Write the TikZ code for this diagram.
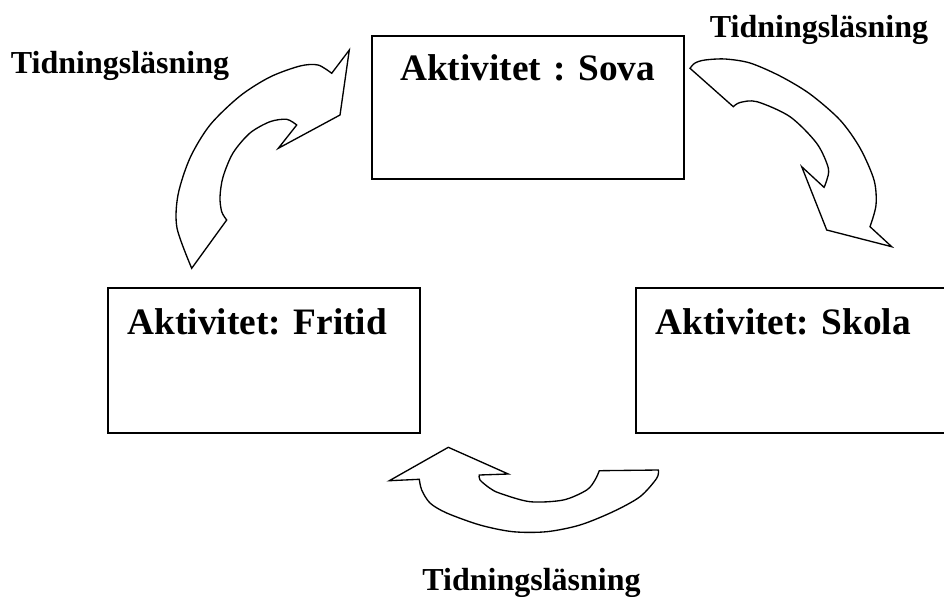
\documentclass[tikz,border=0pt]{standalone}
\usepackage{fontspec}
\setmainfont{Liberation Serif}
\usepackage{tikz}
\usetikzlibrary{positioning}
\frenchspacing
\tikzstyle{actbox} = [rectangle, draw=black, line width=1.2pt, anchor=north west, minimum width=234pt, inner xsep=15pt, inner ysep=0pt, text width=204pt, text depth=73.5pt, font=\fontsize{28}{34}\selectfont\bfseries]
\tikzstyle{readlabel} = [anchor=base, inner sep=0pt, font=\fontsize{24}{29}\selectfont\bfseries]
\tikzstyle{bigarrow} = [draw=black, line width=1pt, fill=white, line join=miter]

\begin{document}
\begin{tikzpicture}[x=0.75pt, y=-0.75pt]
\useasboundingbox (0,0) rectangle (944,596);

\node[actbox, align=center, text height=33.75pt] (sova) at (371,35) {Aktivitet : Sova};
\node[actbox, align=left, text height=35.25pt] (fritid) at (107,287) {Aktivitet: Fritid};
\node[actbox, align=left, text height=35.25pt] (skola) at (635,287) {Aktivitet: Skola};

\node[readlabel] (lasvanster) at (120,73) {Tidningsläsning};
\node[readlabel] (lashoger) at (819,37) {Tidningsläsning};
\node[readlabel] (lasnere) at (531.5,590) {Tidningsläsning};

\draw[bigarrow] (191.7,268.3)
  -- plot[smooth] coordinates {(191.7,268.3) (177,228) (178,195) (190,158) (210,125) (240,96) (270,77) (300,66) (318,65) (331.7,73.3)}
  -- (349.3,50) -- (340,115) -- (278.3,148.3) -- (296.7,125)
  -- plot[smooth] coordinates {(296.7,125) (286.7,119.3) (270,121.7) (250,133) (233,153) (223,177) (220,197) (221.7,211.7) (226.7,220)}
  -- cycle;

\draw[bigarrow] (690,68.3) -- (733.3,106.7)
  -- plot[smooth] coordinates {(733.3,106.7) (740,102.5) (757,101.7) (790,116.7) (816.7,143.3) (828.3,168) (826.5,181) (824,187.3)}
  -- (801.7,166.7) -- (826.7,230) -- (891.7,246.7) -- (870,226.7)
  -- plot[smooth] coordinates {(870,226.7) (876,205) (874,180) (860,148) (840,120) (810,94) (780,76) (750,63) (725,59) (705,60) (695,63) (690,68.3)}
  -- cycle;

\draw[bigarrow] (448.3,447.3) -- (508.3,474) -- (479.3,475)
  -- plot[smooth] coordinates {(479.3,475) (480,480) (490,488.3) (500,493.3) (530,501.7) (563.3,500) (586.7,490) (595,480) (599.3,470.7)}
  -- (658.3,470)
  -- plot[smooth] coordinates {(658.3,470) (656.7,478.3) (640,496.7) (613,511.7) (580,525) (546.7,531.7) (513,531.7) (480,525) (446.7,513) (430,503) (421.7,490) (419.3,479.3)}
  -- (389.3,480.7) -- cycle;
\end{tikzpicture}
\end{document}
